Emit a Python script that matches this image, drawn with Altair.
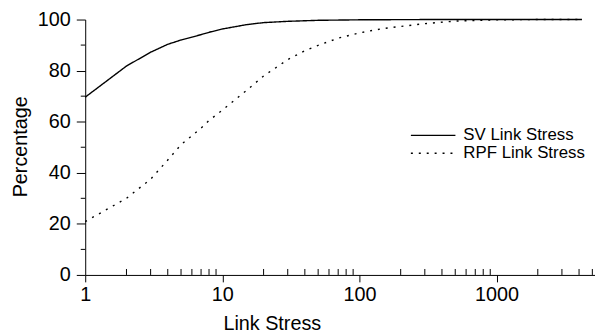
import altair as alt
import pandas as pd

names = ["SV Link Stress", "RPF Link Stress"]

x_sv = [1, 2, 3, 4, 5, 6, 7, 8, 10, 15, 20, 30, 50, 100, 300, 1000, 4200]
y_sv = [69.6, 81.8, 87.2, 90.3, 92.0, 93.1, 94.1, 95.0, 96.3, 98.0, 98.8, 99.3, 99.7, 99.9, 100, 100, 100]

x_rpf = [1, 2, 3, 4, 5, 6, 7, 8, 10, 15, 20, 30, 40, 50, 70, 100, 150, 200, 300, 500, 1000, 2000, 4200]
y_rpf = [20.9, 30.0, 37.5, 45.0, 51.0, 54.5, 57.5, 60.5, 64.5, 72.2, 77.9, 84.3, 87.8, 89.9, 92.7, 94.8,
         96.5, 97.3, 98.4, 99.4, 99.9, 100, 100]

x_major = [1, 10, 100, 1000]
x_minor = [2, 3, 4, 5, 6, 7, 8, 9, 20, 30, 40, 50, 60, 70, 80, 90,
           200, 300, 400, 500, 600, 700, 800, 900, 2000, 3000, 4000, 5000]
y_major = [0, 20, 40, 60, 80, 100]
y_minor = [10, 30, 50, 70, 90]

df = pd.concat([
    pd.DataFrame({"stress": x_sv, "pct": y_sv, "series": names[0]}),
    pd.DataFrame({"stress": x_rpf, "pct": y_rpf, "series": names[1]}),
])

x_scale = alt.Scale(type="log", domain=[1, 5228], nice=False)
y_scale = alt.Scale(domain=[0, 100], nice=False)

x_axis = alt.Axis(values=x_major, format="d", title="Link Stress", tickSize=7,
                  labelPadding=3, labelFlush=False, labelOverlap=False,
                  titleX=188.5, titleY=54.7, titleBaseline="alphabetic", titleAlign="center")
y_axis = alt.Axis(values=y_major, tickSize=9, labelPadding=6, labelFlush=False,
                  labelOverlap=False, title="Percentage", titleX=-59.5, titleY=128,
                  titleAngle=270, titleBaseline="alphabetic", titleAlign="center")

dash_scale = alt.Scale(domain=names, range=[[1, 0], [2, 6]])

lines = alt.Chart(df).mark_line(color="black", strokeWidth=1.4).encode(
    x=alt.X("stress:Q", scale=x_scale, axis=x_axis),
    y=alt.Y("pct:Q", scale=y_scale, axis=y_axis),
    strokeDash=alt.StrokeDash("series:N", scale=dash_scale, legend=None),
)

xminor = alt.Chart(pd.DataFrame({"stress": x_minor})).mark_rule(color="black", strokeWidth=1).encode(
    x=alt.X("stress:Q", scale=x_scale, axis=x_axis),
    y=alt.value(258), y2=alt.value(252),
)
yminor = alt.Chart(pd.DataFrame({"pct": y_minor})).mark_rule(color="black", strokeWidth=1).encode(
    y=alt.Y("pct:Q", scale=y_scale, axis=y_axis),
    x=alt.value(-4.5), x2=alt.value(0),
)

leg_layers = []
for i, (nm, dash) in enumerate(zip(names, [[1, 0], [2, 6]])):
    ld = pd.DataFrame({"series": [nm]})
    yy = 117 + 18 * i
    leg_layers.append(alt.Chart(ld).mark_rule(color="black", strokeWidth=1.4, strokeDash=dash).encode(
        x=alt.value(329), x2=alt.value(374), y=alt.value(yy)))
    leg_layers.append(alt.Chart(ld).mark_text(align="left", baseline="middle", fontSize=17,
                                              font="Liberation Sans", color="black").encode(
        x=alt.value(382), y=alt.value(yy - 0.5), text="series:N"))

chart = alt.layer(lines, xminor, yminor, *leg_layers).properties(
    width=515, height=258,
    autosize=alt.AutoSizeParams(type="none"),
    padding={"left": 78, "top": 10, "right": 0, "bottom": 58},
).configure_view(stroke=None).configure_axis(
    grid=False, domainColor="black", tickColor="black", labelColor="black",
    titleColor="black", labelFont="Liberation Sans", titleFont="Liberation Sans",
    labelFontSize=20, titleFontSize=20, titleFontWeight="normal", domainWidth=1, tickWidth=1,
)

chart.save("out.html", embed_options={"renderer": "svg", "actions": False})
